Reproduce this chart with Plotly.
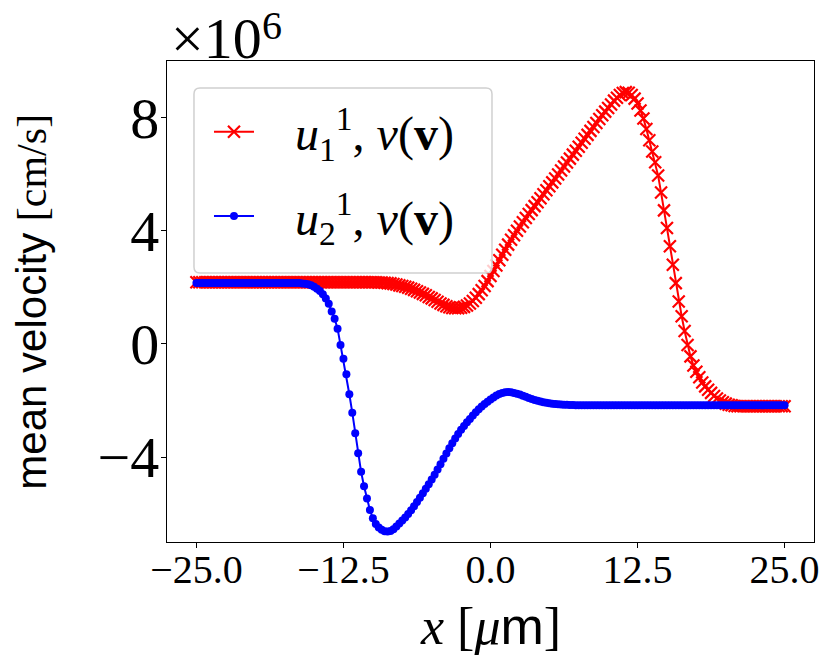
import plotly.graph_objects as go

# x grid in micrometres
x_um = [
    -25.0, -24.75, -24.5, -24.25, -24.0, -23.75, -23.5, -23.25,
    -23.0, -22.75, -22.5, -22.25, -22.0, -21.75, -21.5, -21.25,
    -21.0, -20.75, -20.5, -20.25, -20.0, -19.75, -19.5, -19.25,
    -19.0, -18.75, -18.5, -18.25, -18.0, -17.75, -17.5, -17.25,
    -17.0, -16.75, -16.5, -16.25, -16.0, -15.75, -15.5, -15.25,
    -15.0, -14.75, -14.5, -14.25, -14.0, -13.75, -13.5, -13.25,
    -13.0, -12.75, -12.5, -12.25, -12.0, -11.75, -11.5, -11.25,
    -11.0, -10.75, -10.5, -10.25, -10.0, -9.75, -9.5, -9.25,
    -9.0, -8.75, -8.5, -8.25, -8.0, -7.75, -7.5, -7.25,
    -7.0, -6.75, -6.5, -6.25, -6.0, -5.75, -5.5, -5.25,
    -5.0, -4.75, -4.5, -4.25, -4.0, -3.75, -3.5, -3.25,
    -3.0, -2.75, -2.5, -2.25, -2.0, -1.75, -1.5, -1.25,
    -1.0, -0.75, -0.5, -0.25, 0.0, 0.25, 0.5, 0.75,
    1.0, 1.25, 1.5, 1.75, 2.0, 2.25, 2.5, 2.75,
    3.0, 3.25, 3.5, 3.75, 4.0, 4.25, 4.5, 4.75,
    5.0, 5.25, 5.5, 5.75, 6.0, 6.25, 6.5, 6.75,
    7.0, 7.25, 7.5, 7.75, 8.0, 8.25, 8.5, 8.75,
    9.0, 9.25, 9.5, 9.75, 10.0, 10.25, 10.5, 10.75,
    11.0, 11.25, 11.5, 11.75, 12.0, 12.25, 12.5, 12.75,
    13.0, 13.25, 13.5, 13.75, 14.0, 14.25, 14.5, 14.75,
    15.0, 15.25, 15.5, 15.75, 16.0, 16.25, 16.5, 16.75,
    17.0, 17.25, 17.5, 17.75, 18.0, 18.25, 18.5, 18.75,
    19.0, 19.25, 19.5, 19.75, 20.0, 20.25, 20.5, 20.75,
    21.0, 21.25, 21.5, 21.75, 22.0, 22.25, 22.5, 22.75,
    23.0, 23.25, 23.5, 23.75, 24.0, 24.25, 24.5, 24.75,
    25.0,
]

# mean velocity u_1^1 in units of 1e6 cm/s
u1 = [
    2.18, 2.18, 2.18, 2.18, 2.18, 2.18, 2.18, 2.18,
    2.18, 2.18, 2.18, 2.18, 2.18, 2.18, 2.18, 2.18,
    2.18, 2.18, 2.18, 2.18, 2.18, 2.18, 2.18, 2.18,
    2.18, 2.18, 2.18, 2.18, 2.18, 2.18, 2.18, 2.18,
    2.18, 2.18, 2.18, 2.18, 2.18, 2.18, 2.18, 2.18,
    2.18, 2.18, 2.18, 2.18, 2.18, 2.18, 2.18, 2.18,
    2.18, 2.18, 2.18, 2.18, 2.18, 2.18, 2.18, 2.18,
    2.18, 2.18, 2.18, 2.18, 2.18, 2.18, 2.17, 2.17,
    2.16, 2.15, 2.14, 2.12, 2.10, 2.07, 2.05, 2.02,
    1.99, 1.95, 1.91, 1.86, 1.82, 1.77, 1.72, 1.66,
    1.61, 1.55, 1.49, 1.43, 1.38, 1.33, 1.30, 1.27,
    1.26, 1.26, 1.28, 1.31, 1.36, 1.43, 1.52, 1.63,
    1.76, 1.90, 2.05, 2.22, 2.40, 2.58, 2.77, 2.96,
    3.15, 3.33, 3.51, 3.68, 3.84, 4.00, 4.15, 4.30,
    4.45, 4.59, 4.73, 4.87, 5.01, 5.15, 5.29, 5.43,
    5.57, 5.71, 5.85, 5.99, 6.13, 6.27, 6.41, 6.55,
    6.69, 6.83, 6.97, 7.11, 7.25, 7.39, 7.53, 7.67,
    7.81, 7.95, 8.08, 8.21, 8.34, 8.46, 8.60, 8.70,
    8.80, 8.87, 8.90, 8.88, 8.80, 8.67, 8.50, 8.25,
    7.97, 7.60, 7.20, 6.80, 6.42, 5.95, 5.35, 4.72,
    4.10, 3.45, 2.80, 2.15, 1.50, 0.98, 0.46, -0.04,
    -0.44, -0.76, -0.98, -1.18, -1.36, -1.50, -1.62, -1.73,
    -1.84, -1.93, -2.00, -2.06, -2.11, -2.15, -2.17, -2.19,
    -2.20, -2.20, -2.20, -2.20, -2.20, -2.20, -2.20, -2.20,
    -2.20, -2.20, -2.20, -2.20, -2.20, -2.20, -2.20, -2.20,
    -2.20,
]

# mean velocity u_2^1 in units of 1e6 cm/s
u2 = [
    2.15, 2.15, 2.15, 2.15, 2.15, 2.15, 2.15, 2.15,
    2.15, 2.15, 2.15, 2.15, 2.15, 2.15, 2.15, 2.15,
    2.15, 2.15, 2.15, 2.15, 2.15, 2.15, 2.15, 2.15,
    2.15, 2.15, 2.15, 2.15, 2.15, 2.15, 2.15, 2.15,
    2.15, 2.15, 2.15, 2.15, 2.14, 2.13, 2.11, 2.07,
    2.02, 1.95, 1.87, 1.76, 1.61, 1.42, 1.15, 0.89,
    0.54, -0.04, -0.52, -1.07, -1.78, -2.43, -3.16, -3.86,
    -4.52, -5.03, -5.46, -5.87, -6.16, -6.36, -6.49, -6.57,
    -6.62, -6.63, -6.61, -6.55, -6.45, -6.35, -6.24, -6.13,
    -6.01, -5.88, -5.74, -5.59, -5.44, -5.28, -5.12, -4.96,
    -4.79, -4.62, -4.44, -4.25, -4.06, -3.87, -3.69, -3.51,
    -3.34, -3.18, -3.03, -2.90, -2.77, -2.65, -2.53, -2.41,
    -2.31, -2.21, -2.12, -2.04, -1.96, -1.89, -1.82, -1.77,
    -1.73, -1.71, -1.70, -1.71, -1.73, -1.76, -1.79, -1.83,
    -1.87, -1.91, -1.95, -1.98, -2.01, -2.03, -2.06, -2.08,
    -2.10, -2.11, -2.12, -2.13, -2.14, -2.15, -2.15, -2.16,
    -2.16, -2.17, -2.17, -2.17, -2.17, -2.17, -2.17, -2.17,
    -2.17, -2.17, -2.17, -2.17, -2.17, -2.17, -2.17, -2.17,
    -2.17, -2.17, -2.17, -2.17, -2.17, -2.17, -2.17, -2.17,
    -2.17, -2.17, -2.17, -2.17, -2.17, -2.17, -2.17, -2.17,
    -2.17, -2.17, -2.17, -2.17, -2.17, -2.17, -2.17, -2.17,
    -2.17, -2.17, -2.17, -2.17, -2.17, -2.17, -2.17, -2.17,
    -2.17, -2.17, -2.17, -2.17, -2.17, -2.17, -2.17, -2.17,
    -2.17, -2.17, -2.17, -2.17, -2.17, -2.17, -2.17, -2.17,
    -2.17, -2.17, -2.17, -2.17, -2.17, -2.17, -2.17, -2.17,
    -2.17,
]

x_ticks = [-25.0, -12.5, 0.0, 12.5, 25.0]
x_tick_labels = ["\u221225.0", "\u221212.5", "0.0", "12.5", "25.0"]
y_ticks = [8, 4, 0, -4]
y_tick_labels = ["8", "4", "0", "\u22124"]

SERIF = "Liberation Serif"
SANS = "Liberation Sans"
PAD = "\u00a0\u00a0\u00a0"

fig = go.Figure()
fig.add_trace(go.Scatter(
    x=x_um, y=u1, mode="lines+markers", legendgroup="a",
    name=PAD + "<i>u</i><sub>1</sub><sup>1</sup>, <i>\u03bd</i>(<b>v</b>)",
    line=dict(color="#ff0000", width=2),
    marker=dict(symbol="x-thin", size=12, color="#ff0000",
                line=dict(color="#ff0000", width=2.2)),
))
fig.add_trace(go.Scatter(
    x=x_um, y=u2, mode="lines+markers", legendgroup="b",
    name=PAD + "<i>u</i><sub>2</sub><sup>1</sup>, <i>\u03bd</i>(<b>v</b>)",
    line=dict(color="#0000ff", width=2),
    marker=dict(symbol="circle", size=8, color="#0000ff"),
))

axis_style = dict(
    showline=True, mirror=True, linecolor="black", linewidth=1.3,
    ticks="outside", ticklen=5, tickwidth=1.3, tickcolor="black",
    showgrid=False, zeroline=False,
)

# rounded legend frame (paper coordinates of the plot area)
bx0, bx1, by0, by1 = 0.0417, 0.5023, 0.5593, 0.9439
rx, ry = 6 / 647, 6 / 481
frame = (
    f"M {bx0 + rx},{by0} L {bx1 - rx},{by0} Q {bx1},{by0} {bx1},{by0 + ry} "
    f"L {bx1},{by1 - ry} Q {bx1},{by1} {bx1 - rx},{by1} "
    f"L {bx0 + rx},{by1} Q {bx0},{by1} {bx0},{by1 - ry} "
    f"L {bx0},{by0 + ry} Q {bx0},{by0} {bx0 + rx},{by0} Z"
)

fig.update_layout(
    width=823, height=658,
    margin=dict(l=159, r=17, t=53, b=124),
    paper_bgcolor="white", plot_bgcolor="white",
    xaxis=dict(range=[-27.5, 27.5], tickvals=x_ticks, ticktext=x_tick_labels,
               ticklabelstandoff=-13,
               tickfont=dict(family=SERIF, size=40, color="black"), **axis_style),
    yaxis=dict(range=[-7.0, 10.0], tickvals=y_ticks, ticktext=y_tick_labels,
               ticklabelstandoff=-10,
               tickfont=dict(family=SERIF, size=58, color="black"), **axis_style),
    legend=dict(
        x=0.0649, y=0.9314, xanchor="left", yanchor="top",
        bgcolor="rgba(0,0,0,0)", borderwidth=0,
        font=dict(family=SERIF, size=48, color="black"),
        itemwidth=40, tracegroupgap=19, traceorder="grouped",
    ),
    shapes=[
        dict(type="path", path=frame, xref="paper", yref="paper",
             line=dict(color="#d0d0d0", width=1.5),
             fillcolor="rgba(255,255,255,0.8)", layer="above"),
    ],
    annotations=[
        # offset text "x10^6", exponent as its own smaller label
        dict(text="\u00d710", xref="paper", yref="paper",
             x=0.003, y=1.046, xanchor="left", yanchor="middle", showarrow=False,
             font=dict(family=SERIF, size=58, color="black")),
        dict(text="6", xref="paper", yref="paper",
             x=0.144, y=1.073, xanchor="left", yanchor="middle", showarrow=False,
             font=dict(family=SERIF, size=40, color="black")),
        dict(text="<i>x</i> [<i>\u03bc</i><span style='font-family:Liberation Sans'>m</span>]",
             xref="paper", yref="paper", x=0.5, y=-0.175,
             xanchor="center", yanchor="middle", showarrow=False,
             font=dict(family=SERIF, size=52, color="black")),
        dict(text="mean velocity <span style='font-family:Liberation Serif'>[cm/s]</span>",
             xref="paper", yref="paper", x=-0.210, y=0.50, textangle=-90,
             xanchor="center", yanchor="middle", showarrow=False,
             font=dict(family=SANS, size=42, color="black")),
    ],
)

fig.write_html("out.html")
